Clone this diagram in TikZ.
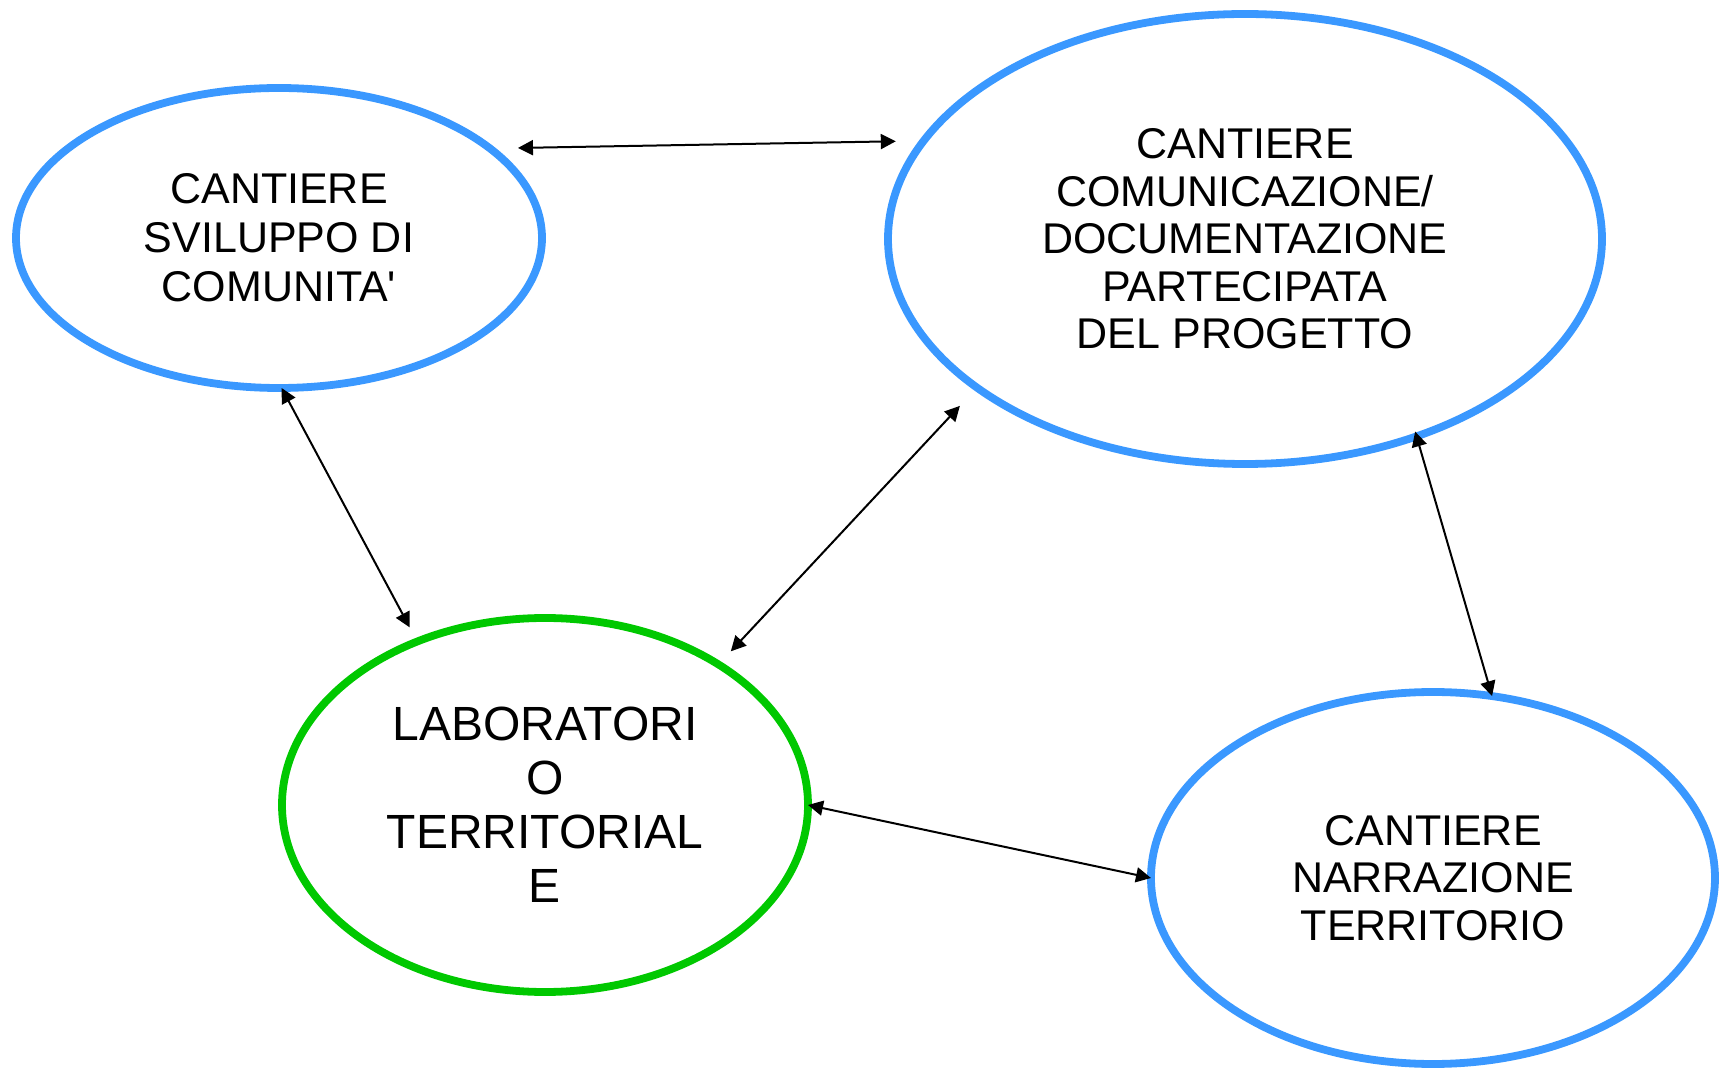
\documentclass[tikz,border=0pt]{standalone}
\usepackage{fontspec}
\setmainfont{Liberation Sans}[Ligatures=TeXOff]
\usepackage{tikz}
\usetikzlibrary{arrows.meta}
\usetikzlibrary{shapes.geometric}

\definecolor{cantblue}{RGB}{58,152,255}
\definecolor{labgreen}{RGB}{0,200,0}

\begin{document}
\begin{tikzpicture}[x=0.5pt,y=-0.5pt,
  cantiere/.style={ellipse,draw=cantblue,line width=3.9pt,outer sep=0pt,align=center,
    font=\fontsize{21.5}{23.8}\selectfont},
  lab/.style={cantiere,draw=labgreen,font=\fontsize{24}{27}\selectfont},
  link/.style={{Triangle[length=7.5pt,width=7.5pt]}-{Triangle[length=7.5pt,width=7.5pt]},line width=1pt}]
  \useasboundingbox (0,0) rectangle (1721,1069);

  % the four cantieri
  \node[cantiere,minimum width=263pt,minimum height=150pt,
    font=\fontsize{21.5}{24.6}\selectfont] (c_svil) at (279,238)
    {CANTIERE\\SVILUPPO DI\\COMUNITA'};
  \node[cantiere,minimum width=357pt,minimum height=225pt] (c_com) at (1245,239)
    {CANTIERE\\COMUNICAZIONE/\\DOCUMENTAZIONE\\PARTECIPATA\\DEL PROGETTO};
  \node[lab,minimum width=263pt,minimum height=187pt] (lab) at (545,805)
    {LABORATORI\\O\\TERRITORIAL\\E};
  \node[cantiere,minimum width=282pt,minimum height=186pt] (c_narr) at (1433,878)
    {CANTIERE\\NARRAZIONE\\TERRITORIO};

  \path[link]
    (c_svil.23) edge[shorten <=14pt,shorten >=14pt] (c_com.163)
    (c_svil.-89) edge[shorten >=8pt] (lab.128)
    (lab.39) edge[shorten <=9pt,shorten >=12.5pt] (c_com.209)
    (c_com.-49) edge[shorten <=-2.5pt] (c_narr.72)
    (lab.0) edge (c_narr.180);
\end{tikzpicture}
\end{document}
